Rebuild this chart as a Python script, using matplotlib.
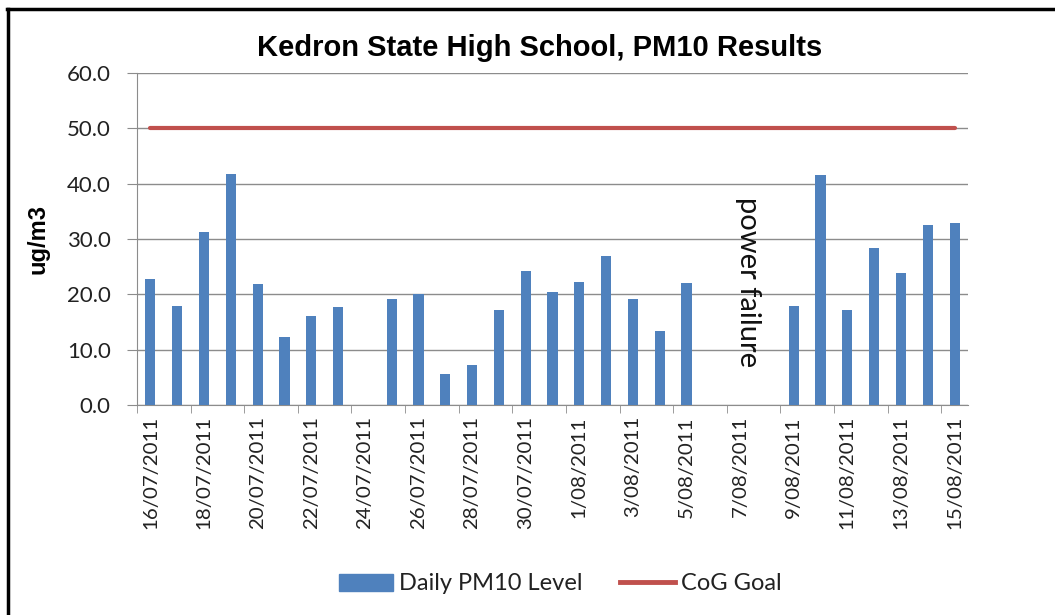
#!/usr/bin/env python3

import numpy as np
import matplotlib as mpl
mpl.use('Agg')
import matplotlib.pyplot as plt
from matplotlib.lines import Line2D
from matplotlib.patches import Patch

mpl.rcParams['font.family'] = ['Lato', 'DejaVu Sans']

# daily PM10 readings, None = no reading (power failure etc.)
dates = ['16/07/2011', '17/07/2011', '18/07/2011', '19/07/2011', '20/07/2011',
         '21/07/2011', '22/07/2011', '23/07/2011', '24/07/2011', '25/07/2011',
         '26/07/2011', '27/07/2011', '28/07/2011', '29/07/2011', '30/07/2011',
         '31/07/2011', '1/08/2011', '2/08/2011', '3/08/2011', '4/08/2011',
         '5/08/2011', '6/08/2011', '7/08/2011', '8/08/2011', '9/08/2011',
         '10/08/2011', '11/08/2011', '12/08/2011', '13/08/2011', '14/08/2011',
         '15/08/2011']
pm10 = [22.7, 17.9, 31.3, 41.7, 21.8, 12.3, 16.0, 17.7, None, 19.1,
        20.1, 5.6, 7.2, 17.2, 24.2, 20.4, 22.3, 26.9, 19.1, 13.4,
        22.1, None, None, None, 17.9, 41.5, 17.2, 28.3, 23.9, 32.5,
        32.9]
cog_goal = 50.0

bar_col = '#4F81BD'
line_col = '#C0504D'
txt_col = '#222222'

x = np.arange(len(dates))
vals = np.array([np.nan if v is None else v for v in pm10])
ok = ~np.isnan(vals)

fig = plt.figure(figsize=(10.55, 6.15), dpi=100)
ax = fig.add_axes([137 / 1055, 1 - 405 / 615, (968 - 137) / 1055, (405 - 73) / 615])

ax.bar(x[ok], vals[ok], width=0.38, color=bar_col, zorder=3)
ax.plot(x, [cog_goal] * len(x), color=line_col, lw=3, solid_capstyle='round', zorder=4)

ax.set_xlim(-0.5, len(dates) - 0.5)
ax.set_ylim(0, 60)
ax.set_yticks(np.arange(0, 61, 10))
ax.set_yticklabels([f'{v:.1f}' for v in np.arange(0, 61, 10)], fontsize=16, color=txt_col)
ax.yaxis.grid(True, color='#8c8c8c', lw=1)
ax.set_axisbelow(True)

# labels on every second day, tick marks at the gaps
ax.set_xticks(x[::2])
ax.set_xticklabels(dates[::2], rotation=90, fontsize=14.7, color=txt_col)
ax.tick_params(axis='x', length=0, pad=8)
ax.set_xticks(np.arange(-0.5, len(dates) - 1, 2), minor=True)
ax.tick_params(axis='x', which='minor', length=6, color='#8c8c8c')
ax.tick_params(axis='y', length=7, color='#8c8c8c', pad=12)

for s in ['top', 'right']:
    ax.spines[s].set_visible(False)
for s in ['left', 'bottom']:
    ax.spines[s].set_color('#8c8c8c')

ax.set_ylabel('ug/m3', fontsize=17, fontweight='bold', family='Liberation Sans', labelpad=12)
ax.text(22.3, 22.2, 'power failure', rotation=-90, fontsize=21,
        ha='center', va='center', color='#111111')

fig.text(540 / 1055, 1 - 48 / 615, 'Kedron State High School, PM10 Results',
         ha='center', va='center', fontsize=21, fontweight='bold', family='Liberation Sans')

handles = [Patch(color=bar_col), Line2D([], [], color=line_col, lw=3.5)]
leg = fig.legend(handles, ['Daily PM10 Level', 'CoG Goal'], loc='center',
                 bbox_to_anchor=(560 / 1055, 1 - 584 / 615), ncol=2,
                 frameon=False, fontsize=17, handlelength=2.3, handleheight=0.75,
                 columnspacing=1.6, handletextpad=0.25)
for t in leg.get_texts():
    t.set_color(txt_col)

# outer frame, only top and left edges show
fig.add_artist(Line2D([0.007, 1], [1 - 9 / 615, 1 - 9 / 615], color='black', lw=2.5))
fig.add_artist(Line2D([8 / 1055, 8 / 1055], [0, 1 - 9 / 615], color='black', lw=2.5))

fig.savefig('out.png', dpi=100)
